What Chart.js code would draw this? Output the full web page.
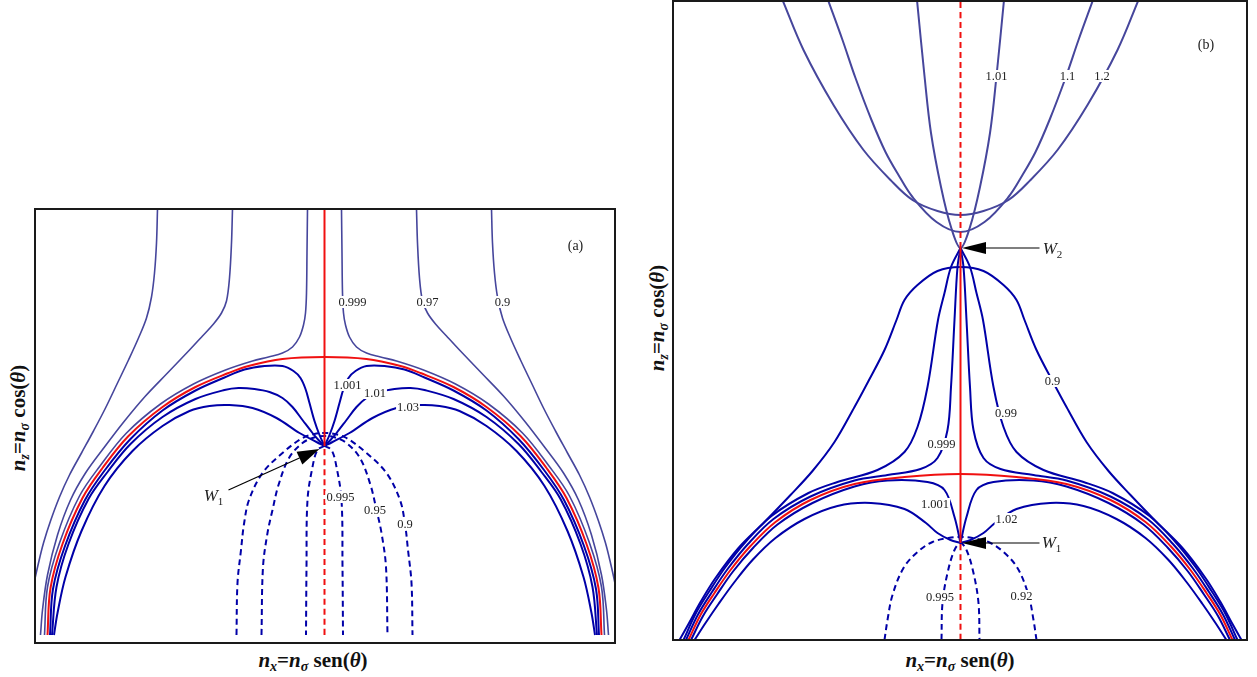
<!DOCTYPE html>
<html lang="es">
<head>
<meta charset="UTF-8">
<title>Curvas de nivel</title>
<script src="https://cdn.jsdelivr.net/npm/chart.js@4.4.0/dist/chart.umd.min.js"></script>
<style>
  body { margin: 0; background: #fff; width: 1257px; height: 677px; position: relative; overflow: hidden; }
  canvas { position: absolute; }
  #chartA { left: 33px; top: 207px; }
  #chartB { left: 671px; top: -1px; }
  .ttl { position: absolute; font: bold 21px 'Liberation Serif', serif; white-space: nowrap; color: #111; }
  .ttl sub { font-size: 14px; vertical-align: -4px; line-height: 0; }
  .hor { transform: translate(-50%, -50%); }
  .rot { transform: translate(-50%, -50%) rotate(-90deg); }
</style>
</head>
<body>
<canvas id="chartA" width="584" height="438"></canvas>
<canvas id="chartB" width="578" height="643"></canvas>
<div class="ttl hor" style="left:313px; top:660px"><i>n</i><sub><i>x</i></sub>=<i>n</i><sub><i>σ</i></sub> sen(<i>θ</i>)</div>
<div class="ttl rot" style="left:18px; top:418px"><i>n</i><sub><i>z</i></sub>=<i>n</i><sub><i>σ</i></sub> cos(<i>θ</i>)</div>
<div class="ttl hor" style="left:960px; top:660px"><i>n</i><sub><i>x</i></sub>=<i>n</i><sub><i>σ</i></sub> sen(<i>θ</i>)</div>
<div class="ttl rot" style="left:657px; top:318px"><i>n</i><sub><i>z</i></sub>=<i>n</i><sub><i>σ</i></sub> cos(<i>θ</i>)</div>
<script>
// ---- panel (a): right halves [nx, nz], mirrored about nx = 0 ----
const aRedArc = [[0,286],[42,284],[76,277],[96,270],[129,256],[162,236],[196,207],[222,175],[242,145],[262,99],[274,55],[277,8]];
const aRedSolid = [[0,197],[0,434]];
const aRedDash = [[0,8],[0,197]];
const a0999 = [[17,434],[17.5,390],[18,350],[19,330],[21,318],[25,306],[32,296],[42,290],[56,286],[72,282],[99,273],[131,259],[164,239],[198,210],[224.5,177],[245,147],[265,100],[277,56],[280,8]];
const a097 = [[92,434],[93,400],[95,365],[98,342],[103,330],[111,319],[122,307],[135,293],[157,270],[179,247],[200,222],[220,196],[239,170],[254,143],[267,108],[277,68],[282,33],[284,8]];
const a09 = [[167,434],[168,400],[170,370],[173,346],[178,325],[186,305],[196,283],[207,260],[219,235],[231,212],[243,190],[255,168],[265,146],[274,122],[281,100],[286,80],[290,62],[293,45]];
const a1001 = [[0,197],[5,208],[10,222],[15,240],[19,254],[24,265],[31,272],[42,277],[60,277],[80,273.5],[100,265.5],[129,252.5],[162,232.5],[194,204],[219.5,173],[239.5,143],[259.5,97],[271.5,54],[274.5,8]];
const a101 = [[0,197],[6,203],[12,210],[22,223],[32,236],[42,245],[55,251],[70,254],[86,255],[100,253],[129,244],[162,226],[194,199],[217,171],[236,144],[256,99],[268,56],[272.5,8]];
const a103 = [[0,197],[8,201],[25,210],[48,225],[72,235],[95,238],[115,237],[135,232],[162,217],[192,192],[220,157],[243,112],[259,66],[267,30],[270.5,8]];
const a0995 = [[0,197],[7,193],[12,176],[17,143],[18,76],[18.5,8]];
const a095 = [[0,207],[9,206],[22,200],[35.5,185],[46,158],[52,133],[57,110],[61.5,76],[63,8]];
const a09d = [[0,210],[10,209],[22,205],[42,190],[62,170],[75.5,143],[80.5,119],[83.5,93],[87,60],[88,8]];
const aLabels = [['0.999',28,341],['0.97',103,341],['0.9',178,341],['1.001',23,258],['1.01',50.5,250],['1.03',83.5,236],['0.995',16,146],['0.95',50.5,133],['0.9',80.5,119]];

// ---- panel (b) ----
const bRedArc = [[0,166],[56,163],[106,156],[150,140],[185,118],[210,94],[230,70],[246,47],[260,25],[272,0]];
const bRedSolid = [[0,97],[0,392]];
const bRedDashLow = [[0,0],[0,97]];
const bRedDashHigh = [[0,392],[0,639]];
const b101 = [[0,392],[9.5,413],[19.5,453],[29.5,507],[36,564],[43.5,640]];
const b11 = [[0,408],[24,418],[48,443],[62,465],[75,488],[89,520],[105,562],[118,600],[132.5,640]];
const b12 = [[0,425],[23,429],[48,440],[70,460],[97,490],[127,535],[157,590],[178,640]];
const b09 = [[0,373],[23,369],[43,355],[56,340],[64,320],[76,290],[92,259],[106,233],[126,198],[148,169],[170,145],[196,118],[222,92],[245,62],[260,38],[272,16],[281,0]];
const b099 = [[0,392],[9.5,373],[16,347],[22.5,320],[33,253],[43,213],[56,188],[83,170],[123,158],[152,147],[189,124],[215,98],[235,73],[251,49],[265,26],[277,0]];
const b0999 = [[0,392],[3,373],[6,320],[9.5,253],[13,210],[23,182],[40,171],[73,165],[106,159.5],[150,143.5],[187,121],[212.5,96],[232.5,71.5],[248.5,48],[262.5,25.5],[274.5,0]];
const b1001 = [[0,97],[6,123],[16,150],[33,158],[73,159.5],[106,153.5],[148,137],[183,115.5],[207.5,92],[227.5,68.5],[243.5,45.5],[257.5,24],[269.5,0]];
const b102 = [[0,97],[10,100],[23,107],[34.5,117],[56,131],[89.5,137],[123,134],[156,121],[185,102],[208,80],[226,58],[242,36],[255,17],[266,0]];
const b0995 = [[0,97],[6,90],[13,67],[18,37],[19,0]];
const b092 = [[0,103],[12,102],[28,98],[43,88],[57,72],[68,45],[73,20],[76,0]];
const bLabels = [['1.01',36,564],['1.1',107,564],['1.2',141.5,564],['0.9',92,259],['0.99',45.5,227],['0.999',-19,196],['1.001',-25.5,136],['1.02',46,121],['0.995',-20.5,43],['0.92',61,44]];

const NAVY = '#0000a8', SLATE = '#46469c', RED = '#f01010';

function half(p, s) { return p.map(q => ({x: s * q[0], y: q[1]})); }
function whole(p) {
    const left = p.slice().reverse().map(q => ({x: -q[0], y: q[1]}));
    const right = half(p, 1);
    if (p[0][0] === 0) right.shift();
    return left.concat(right);
}
function curve(data, color, width, dash) {
    return { data: data, borderColor: color, borderWidth: width, borderDash: dash || [],
             showLine: true, fill: false, pointRadius: 0, tension: 0.35 };
}
function pair(p, color, width, dash) {
    return [curve(half(p, 1), color, width, dash), curve(half(p, -1), color, width, dash)];
}

// etiquetas, flechas y marco
const overlay = {
    id: 'overlay',
    afterDatasetsDraw(chart, args, o) {
        const c = chart.ctx, sx = chart.scales.x, sy = chart.scales.y;
        const X = v => sx.getPixelForValue(v), Y = v => sy.getPixelForValue(v);
        c.save();
        c.textAlign = 'center';
        c.textBaseline = 'middle';
        c.font = '12.5px "Liberation Serif"';
        o.labels.forEach(([t, x, y]) => {
            const w = c.measureText(t).width;
            c.fillStyle = '#fff';
            c.fillRect(X(x) - w / 2 - 1, Y(y) - 6, w + 2, 12);
            c.fillStyle = '#222';
            c.fillText(t, X(x), Y(y) + 0.5);
        });
        o.arrows.forEach(a => {
            const x1 = X(a.from[0]), y1 = Y(a.from[1]), x2 = X(a.to[0]), y2 = Y(a.to[1]);
            const ang = Math.atan2(y2 - y1, x2 - x1);
            const bx = x2 - a.len * Math.cos(ang), by = y2 - a.len * Math.sin(ang);
            c.strokeStyle = '#000';
            c.lineWidth = 1.2;
            c.beginPath(); c.moveTo(x1, y1); c.lineTo(bx, by); c.stroke();
            c.fillStyle = '#000';
            c.beginPath();
            c.moveTo(x2, y2);
            c.lineTo(bx + a.hw * Math.sin(ang), by - a.hw * Math.cos(ang));
            c.lineTo(bx - a.hw * Math.sin(ang), by + a.hw * Math.cos(ang));
            c.closePath(); c.fill();
        });
        o.points.forEach(([s, x, y]) => {
            c.font = 'italic 17px "Liberation Serif"';
            const w1 = c.measureText('W').width;
            c.font = '11px "Liberation Serif"';
            const w2 = c.measureText(s).width;
            const x0 = X(x) - (w1 + w2) / 2;
            c.textAlign = 'left';
            c.fillStyle = '#222';
            c.font = 'italic 17px "Liberation Serif"';
            c.fillText('W', x0, Y(y));
            c.font = '11px "Liberation Serif"';
            c.fillText(s, x0 + w1, Y(y) + 5);
            c.textAlign = 'center';
        });
        c.font = '14px "Liberation Serif"';
        c.fillStyle = '#222';
        c.fillText(o.tag[0], X(o.tag[1]), Y(o.tag[2]));
        const ca = chart.chartArea;
        c.strokeStyle = '#1a1a1a';
        c.lineWidth = 2;
        c.strokeRect(ca.left, ca.top, ca.right - ca.left, ca.bottom - ca.top);
        c.restore();
    }
};

function makeChart(id, datasets, xr, yr, ov) {
    return new Chart(document.getElementById(id), {
        type: 'scatter',
        data: { datasets: datasets },
        options: {
            responsive: false,
            animation: false,
            events: [],
            layout: { padding: 2 },
            scales: {
                x: { type: 'linear', display: false, min: xr[0], max: xr[1] },
                y: { type: 'linear', display: false, min: yr[0], max: yr[1] }
            },
            plugins: { legend: { display: false }, tooltip: { enabled: false }, overlay: ov }
        },
        plugins: [overlay]
    });
}

const dash = [6, 4];

makeChart('chartA', [
    curve(whole(aRedArc), RED, 2),
    curve(half(aRedSolid, 1), RED, 2),
    curve(half(aRedDash, 1), RED, 2, dash),
    ...pair(a1001, NAVY, 2),
    ...pair(a101, NAVY, 2),
    ...pair(a103, NAVY, 2),
    ...pair(a0999, SLATE, 1.6),
    ...pair(a097, SLATE, 1.6),
    ...pair(a09, SLATE, 1.6),
    ...pair(a0995, NAVY, 2, dash),
    curve(whole(a095), NAVY, 2, dash),
    curve(whole(a09d), NAVY, 2, dash)
], [-289.5, 290.5], [0, 434], {
    labels: aLabels,
    arrows: [{ from: [-96, 153], to: [-5, 194], len: 22, hw: 7 }],
    points: [['1', -111, 146]],
    tag: ['(a)', 251, 397]
});

makeChart('chartB', [
    curve(whole(bRedArc), RED, 2),
    curve(half(bRedSolid, 1), RED, 2),
    curve(half(bRedDashLow, 1), RED, 2, dash),
    curve(half(bRedDashHigh, 1), RED, 2, dash),
    ...pair(b1001, NAVY, 2),
    ...pair(b102, NAVY, 2),
    ...pair(b0999, NAVY, 2),
    ...pair(b099, NAVY, 2),
    curve(whole(b09), NAVY, 2),
    curve(whole(b101), SLATE, 2),
    curve(whole(b11), SLATE, 2),
    curve(whole(b12), SLATE, 2),
    curve(whole(b0995), NAVY, 2, dash),
    curve(whole(b092), NAVY, 2, dash)
], [-287.5, 286.5], [0, 639], {
    labels: bLabels,
    arrows: [{ from: [79, 392], to: [1.5, 392], len: 24, hw: 6 },
             { from: [79, 97], to: [1.5, 97], len: 24, hw: 6 }],
    points: [['2', 92, 390], ['1', 91, 96]],
    tag: ['(b)', 245.5, 595]
});
</script>
</body>
</html>
